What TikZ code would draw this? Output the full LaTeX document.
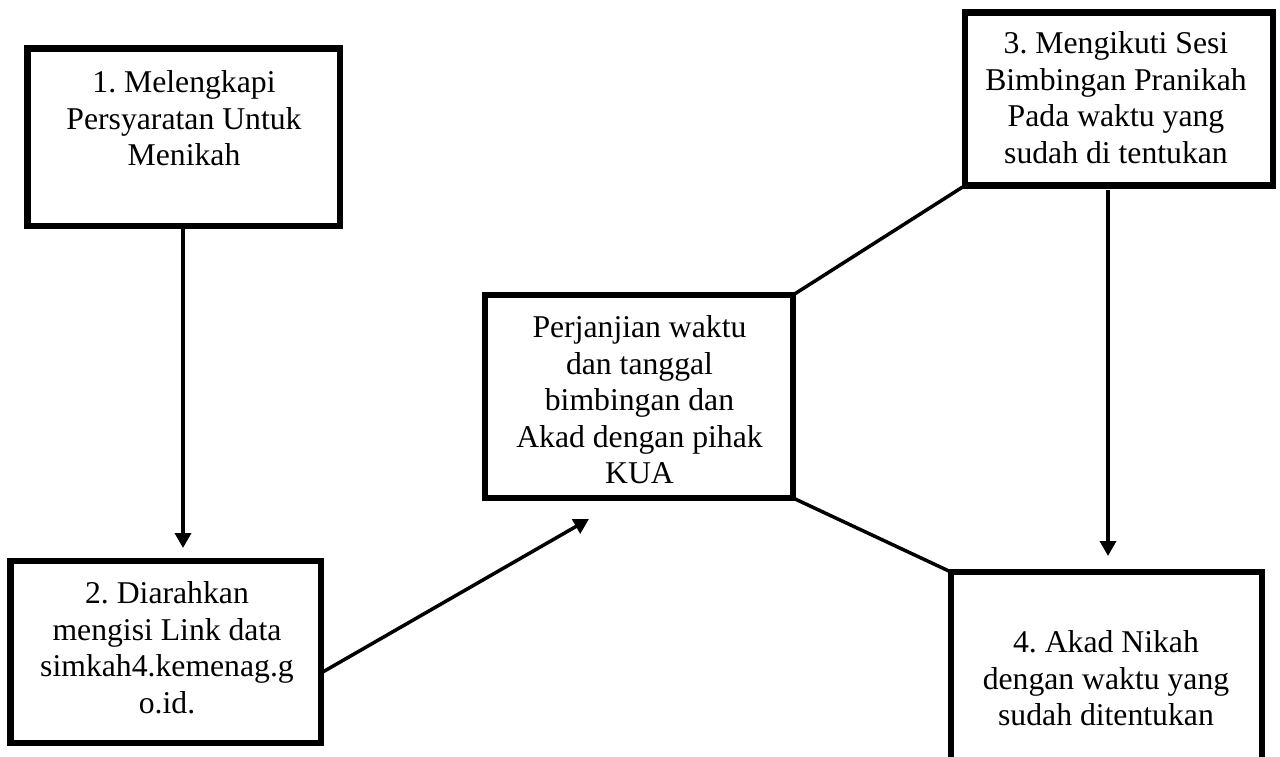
\documentclass[tikz,border=0pt]{standalone}
\usepackage{fontspec}
\setmainfont{Liberation Serif}
\usetikzlibrary{arrows.meta}
\frenchspacing
\begin{document}
\begin{tikzpicture}[x=1pt,y=-1pt,
  box/.style={draw=black,line width=6.5pt,rectangle,inner sep=0pt,outer sep=0pt,fill=none},
  txt/.style={align=center,inner sep=0pt,anchor=north,font=\fontsize{31.7}{36.5}\selectfont},
  conn/.style={draw=black,line width=3.5pt},
  arr/.style={conn,-{Triangle[length=15pt,width=16pt]}}]
\useasboundingbox (0,0) rectangle (1280,756);
% boxes
\node[box,minimum width=312.5pt,minimum height=177.5pt] (b1) at (183.75,137.25) {};
\node[box,minimum width=310.5pt,minimum height=182pt] (b2) at (165.75,652) {};
\node[box,minimum width=308pt,minimum height=203pt] (c) at (639,396.5) {};
\node[box,minimum width=308pt,minimum height=173pt] (b3) at (1119,99) {};
\node[box,minimum width=311pt,minimum height=188pt] (b4) at (1106.5,666) {};
% texts
\node[txt] (t1) at (184,70.3) {1. Melengkapi\\Persyaratan Untuk\\Menikah};
\node[txt] (t2) at (167,581.3) {2. Diarahkan\\mengisi Link data\\simkah4.kemenag.g\\o.id.};
\node[txt] (tc) at (639.5,315.3) {Perjanjian waktu\\dan tanggal\\bimbingan dan\\Akad dengan pihak\\KUA};
\node[txt] (t3) at (1116,31.3) {3. Mengikuti Sesi\\Bimbingan Pranikah\\Pada waktu yang\\sudah di tentukan};
\node[txt] (t4) at (1106,630.3) {4. Akad Nikah\\dengan waktu yang\\sudah ditentukan};
% connector ends
\coordinate (a1) at (183,548);
\coordinate (s2) at (321,673);
\coordinate (a2) at (589,519);
\coordinate (s3) at (1108,190);
\coordinate (a3) at (1108,556);
% connectors
\draw[arr] (b1.south -| a1) -- (a1);
\draw[arr] (s2) -- (a2);
\draw[conn] (c.north east) -- (b3.south west);
\draw[conn] (c.south east) -- (b4.north west);
\draw[arr] (s3) -- (a3);
\end{tikzpicture}
\end{document}
